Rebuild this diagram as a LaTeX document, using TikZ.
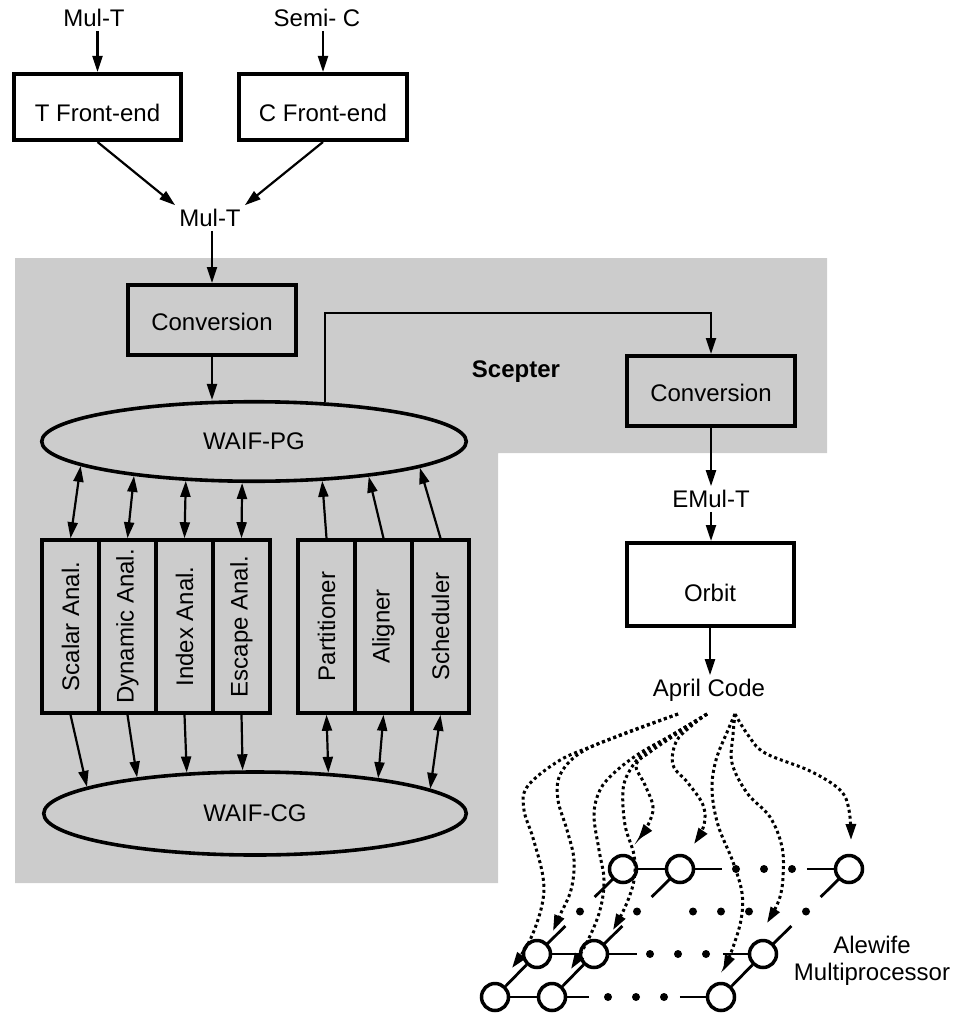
\documentclass[tikz,border=0pt]{standalone}
\usepackage{fontspec}
\setmainfont{Liberation Sans}
\usepackage{graphicx}
\usetikzlibrary{arrows.meta,calc,shapes.geometric}
\begin{document}
\begin{tikzpicture}[x=1pt,y=-1pt,
  font=\fontsize{24}{27}\selectfont,
  >={Triangle[length=16pt,width=10pt]},
  arr/.style={->,line width=2.2pt},
  biarr/.style={<->,line width=2.2pt},
  box/.style={draw,rectangle,line width=4pt,inner sep=0pt},
  cell/.style={draw,rectangle,line width=3.6pt,inner sep=0pt,minimum width=57pt,minimum height=173pt},
  oval/.style={draw,ellipse,line width=3.6pt,inner sep=0pt},
  lbl/.style={inner sep=4pt,text height=17.2pt,text depth=0pt},
  pe/.style={draw,circle,line width=3.5pt,minimum size=27pt,inner sep=0pt,fill=white},
  gdot/.style={circle,fill,inner sep=0pt,minimum size=8pt},
  link/.style={line width=2.8pt},
  darr/.style={->,line width=3pt,dash pattern=on 3pt off 3pt}]

\useasboundingbox (0,0) rectangle (956,1016);

% shaded Scepter region
\fill[black!20] (15,258) -- (827,258) -- (827,453) -- (498,453) -- (498,883) -- (15,883) -- cycle;

% front ends
\node[lbl] (mt) at (94,18) {Mul-T};
\node[lbl] (sc) at (317,18) {Semi- C};
\node[box,minimum width=167pt,minimum height=66pt,text height=29pt] (tfe) at (97.5,107) {T Front-end};
\node[box,minimum width=168pt,minimum height=66pt,text height=29pt] (cfe) at (323,107) {C Front-end};
\node[lbl] (mul) at (210,218) {Mul-T};

\draw[arr] (tfe.north |- mt.south) -- (tfe.north);
\draw[arr] (cfe.north |- sc.south) -- (cfe.north);
\draw[arr] (tfe.south) -- (mul.north west);
\draw[arr] (cfe.south) -- (mul.north east);

% Scepter
\node[box,minimum width=168pt,minimum height=70pt,text height=21pt] (cv1) at (212,320) {Conversion};
\node[inner sep=0pt,font=\fontsize{24}{27}\selectfont\bfseries] (scepter) at (516,372) {Scepter};
\node[oval,minimum width=424.5pt,minimum height=79.5pt] (pg) at (254,441.5) {WAIF-PG};
\node[oval,minimum width=422.5pt,minimum height=83pt] (cg) at (255,813.5) {WAIF-CG};

\draw[arr] (cv1.north |- mul.south) -- (cv1.north);
\draw[arr] (cv1.south) -- (cv1.south |- pg.north);

% analysis passes
\node[cell] (sa) at (70.5,626.5)  {\rotatebox{90}{Scalar Anal.}};
\node[cell] (da) at (127.5,626.5) {\rotatebox{90}{Dynamic Anal.}};
\node[cell] (ia) at (184.5,626.5) {\rotatebox{90}{Index Anal.}};
\node[cell] (ea) at (241.5,626.5) {\rotatebox{90}{Escape Anal.}};
% code generation passes
\node[cell] (pa) at (326.5,626.5) {\rotatebox{90}{Partitioner}};
\node[cell] (al) at (383.5,626.5) {\rotatebox{90}{Aligner}};
\node[cell] (sh) at (440.5,626.5) {\rotatebox{90}{Scheduler}};

\draw[biarr] (sa.north) -- (pg.188.7);
\draw[biarr] (da.north) -- (pg.196.3);
\draw[biarr] (ia.north) -- (pg.210);
\draw[biarr] (ea.north) -- (pg.254);
\draw[arr] (pa.north) -- (pg.330.9);
\draw[arr] (al.north) -- (pg.343.6);
\draw[arr] (sh.north) -- (pg.351.6);

\draw[arr] (sa.south) -- (cg.171.1);
\draw[arr] (da.south) -- (cg.163.5);
\draw[arr] (ia.south) -- (cg.149.9);
\draw[arr] (ea.south) -- (cg.106.9);
\draw[biarr] (pa.south) -- (cg.29.4);
\draw[biarr] (al.south) -- (cg.16.1);
\draw[biarr] (sh.south) -- (cg.8.5);

% back end
\node[box,minimum width=168pt,minimum height=70pt,text height=21pt] (cv2) at (711,391) {Conversion};
\node[lbl] (emul) at (711,499) {EMul-T};
\node[box,minimum width=167pt,minimum height=83pt,text height=34pt] (orbit) at (710,584.5) {Orbit};
\node[lbl] (april) at (709,688) {April Code};

\draw[arr] (pg.29.15) |- ([yshift=41pt]cv2.north) -- (cv2.north);
\draw[arr] (cv2.south) -- (emul.north);
\draw[arr] (emul.south) -- (emul.south |- orbit.north);
\draw[arr] (orbit.south) -- (orbit.south |- april.north);

% Alewife mesh
\node[pe] (a1) at (623,869) {};
\node[pe] (a2) at (680,869) {};
\node[pe] (a3) at (849,869) {};
\node[pe] (b1) at (537,954) {};
\node[pe] (b2) at (594,954) {};
\node[pe] (b3) at (763,954) {};
\node[pe] (c1) at (495,997) {};
\node[pe] (c2) at (552,997) {};
\node[pe] (c3) at (721,997) {};

\draw[link] (a1) -- (a2);
\draw[link] (b1) -- (b2);
\draw[link] (c1) -- (c2);
\draw[link] (b1) -- (c1);
\draw[link] (b2) -- (c2);
\draw[link] (b3) -- (c3);
\draw[link] (a2.east) -- ++(27,0);
\draw[link] ([xshift=-27pt]a3.west) -- (a3.west);
\draw[link] (b2.east) -- ++(28,0);
\draw[link] ([xshift=-25pt]b3.west) -- (b3.west);
\draw[link] (c2.east) -- ++(22,0);
\draw[link] ([xshift=-26pt]c3.west) -- (c3.west);
\foreach \p/\q in {a1/b1,a2/b2,a3/b3}{
  \draw[link] ($(\p)!0.116!(\q)$) -- ($(\p)!0.33!(\q)$);
  \draw[link] ($(\p)!0.67!(\q)$) -- ($(\p)!0.884!(\q)$);
  \node[gdot] at ($(\p)!0.5!(\q)$) {};
}
\foreach \x in {736,764,792}{ \node[gdot] at (\x,869) {}; }
\foreach \x in {650,678,706}{ \node[gdot] at (\x,954) {}; }
\foreach \x in {608,636,664}{ \node[gdot] at (\x,997) {}; }
\foreach \x in {693,721,749}{ \node[gdot] at (\x,911.5) {}; }

\node[align=center,inner sep=0pt] (alewife) at (872,961) {Alewife\\Multiprocessor};

% code distribution
\coordinate (o1) at (678,714);
\coordinate (o2) at (707,714);
\coordinate (o3) at (735,714);

\draw[darr] plot[smooth,tension=0.6] coordinates {(o1) (590,747) (557,762) (527,787) (524,810) (533,838) (543,877) (542,905) (530,940) ($(c1)+(17,-29)$)};
\draw[darr] plot[smooth,tension=0.6] coordinates {(o1) (620,735) (580,753) (560,775) (558,800) (567,830) (574,860) (571,890) (560,915) ($(b1)+(16,-23)$)};
\draw[darr] plot[smooth,tension=0.6] coordinates {(o2) (672,735) (640,753) (615,772) (600,790) (594,815) (599,850) (604,880) (600,910) (588,940) ($(c2)+(19,-28)$)};
\draw[darr] plot[smooth,tension=0.6] coordinates {(o2) (672,735) (645,752) (630,770) (623,790) (625,825) (634,855) (634,880) (626,905) ($(b2)+(19,-24)$)};
\draw[darr] plot[smooth,tension=0.6] coordinates {(o2) (675,735) (650,752) (636,765) (645,785) (653,807) (648,825) ($(a1)+(15,-29)$)};
\draw[darr] plot[smooth,tension=0.6] coordinates {(o2) (690,727) (676,742) (673,765) (688,783) (703,805) (704,825) ($(a2)+(14,-25)$)};
\draw[darr] plot[smooth,tension=0.6] coordinates {(o3) (748,735) (765,753) (810,771) (840,790) (849,810) ($(a3)+(2,-29)$)};
\draw[darr] plot[smooth,tension=0.6] coordinates {(o3) (733,735) (732,763) (747,793) (770,817) (782,847) (783,877) (779,900) ($(b3)+(4,-31)$)};
\draw[darr] plot[smooth,tension=0.6] coordinates {(o3) (728,730) (716,760) (712,790) (718,825) (733,862) (742,893) (741,920) (732,950) ($(c3)+(2,-26)$)};

\end{tikzpicture}
\end{document}
